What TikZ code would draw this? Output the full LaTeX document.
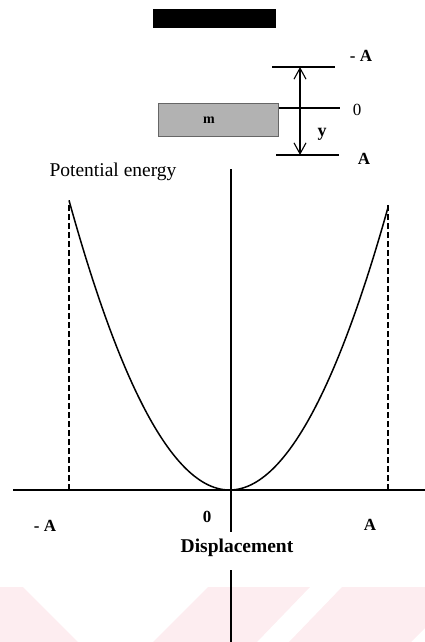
\documentclass[tikz,border=0pt]{standalone}
\usepackage{fontspec}
\setmainfont{Liberation Serif}
\usetikzlibrary{arrows.meta}
\definecolor{wmpink}{RGB}{253,237,240}
\definecolor{massgray}{RGB}{178,178,178}
\begin{document}
\begin{tikzpicture}[x=1pt,y=-1pt,
  axis/.style={line width=1.5pt},
  guide/.style={line width=1.4pt},
  dashline/.style={line width=1.1pt,dash pattern=on 6pt off 3pt},
  lbl/.style={font=\fontsize{17}{19}\selectfont\bfseries,inner sep=0pt},
  plain/.style={font=\fontsize{19.5}{21}\selectfont,inner sep=0pt}]
\useasboundingbox (0,0) rectangle (425,642);
% watermark
\fill[wmpink] (0,587) -- (23,587) -- (78,642) -- (0,642) -- cycle;
\fill[wmpink] (208,587) -- (310,587) -- (257,642) -- (153,642) -- cycle;
\fill[wmpink] (342,587) -- (425,587) -- (425,628) -- (411,642) -- (289,642) -- cycle;
% black bar
\fill[black] (153,9) rectangle (276,28);
% mass
\node[draw=gray!80!black,fill=massgray,minimum width=120pt,minimum height=33pt,inner sep=0pt,line width=0.8pt,anchor=north west] (mass) at (158,103) {};
\node[font=\fontsize{14}{16}\selectfont\bfseries,inner sep=0pt] (mlab) at (209,120) {m};
% position lines
\coordinate (tl) at (272,67); \coordinate (tr) at (335,67);
\coordinate (mr) at (340,108);
\coordinate (bl) at (276,155); \coordinate (br) at (339,155);
\draw[guide] (tl) -- (tr);
\draw[guide] (mass.east |- mr) -- (mr);
\draw[guide] (bl) -- (br);
\coordinate (at) at (300,67); \coordinate (ab) at (300,155);
\draw[line width=1.1pt,{Straight Barb[length=11pt,width=12pt]}-{Straight Barb[length=11pt,width=12pt]}] (at) -- (ab);
\node[lbl] (tA) at (361,56) {- A};
\node[font=\fontsize{17}{19}\selectfont,inner sep=0pt] (t0) at (357,110) {0};
\node[lbl] (bA) at (364,159) {A};
\node[font=\fontsize{18}{20}\selectfont\bfseries,inner sep=0pt] (ylab) at (322,134) {y};
% axes
\node[plain] (pe) at (113,172) {Potential energy};
\coordinate (vtop) at (231,169); \coordinate (vmid) at (231,532);
\coordinate (vlow) at (231,570); \coordinate (vbot) at (231,642);
\draw[axis] (vtop) -- (vmid);
\draw[axis] (vlow) -- (vbot);
\coordinate (hl) at (13,490); \coordinate (hr) at (425,490);
\draw[axis] (hl) -- (hr);
% dashed verticals
\coordinate (dl0) at (69,490); \coordinate (dl1) at (69,202);
\coordinate (dr0) at (388,490); \coordinate (dr1) at (388,203);
\draw[dashline] (dl0) -- (dl1);
\draw[dashline] (dr0) -- (dr1);
% parabola
\draw[line width=1.5pt,smooth] plot[domain=69:388,samples=120] (\x,{490-0.01125*(\x-229.5)*(\x-229.5)});
% bottom labels
\node[lbl] (lA) at (45,526) {- A};
\node[lbl] (l0) at (207,517) {0};
\node[lbl] (rA) at (370,525) {A};
\node[font=\fontsize{19.5}{21}\selectfont\bfseries,inner sep=0pt] (disp) at (237,548) {Displacement};
\end{tikzpicture}
\end{document}
